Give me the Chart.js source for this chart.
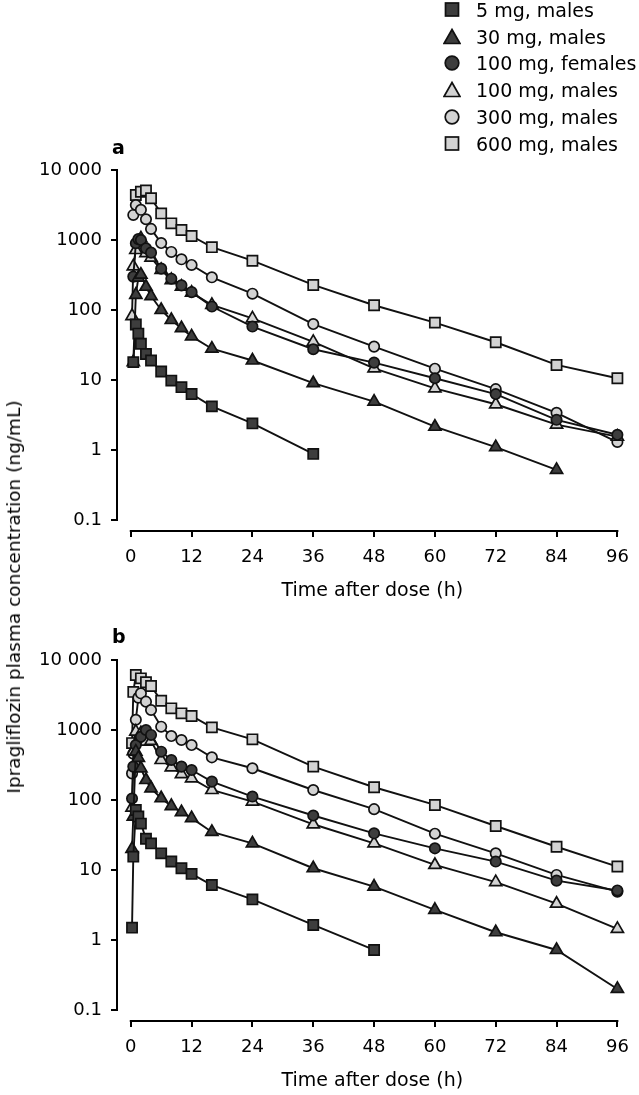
<!DOCTYPE html>
<html><head><meta charset="utf-8">
<script src="https://cdn.jsdelivr.net/npm/chart.js@4/dist/chart.umd.min.js"></script>
<style>
html,body{margin:0;padding:0;background:#fff;}
body{width:639px;height:1095px;position:relative;overflow:hidden;font-family:"DejaVu Sans",sans-serif;color:#000;}
.wrap{position:absolute;left:0;width:639px;height:610px;}
#wa{top:0;}
#wb{top:490px;}
canvas{display:block;}
.plabel{position:absolute;font-weight:bold;font-size:19px;line-height:22px;}
#ytitle{position:absolute;left:14px;top:597px;transform:translate(-50%,-50%) rotate(-90deg);white-space:nowrap;font-size:18.5px;line-height:22px;}
.lrow{position:absolute;height:22px;white-space:nowrap;font-size:19px;line-height:22px;}
.lrow svg{position:absolute;left:-32px;top:0;}
</style></head>
<body>
<div class="wrap" id="wa"><canvas id="ca" width="639" height="610"></canvas></div>
<div class="wrap" id="wb"><canvas id="cb" width="639" height="610"></canvas></div>
<div class="plabel" style="left:112px;top:136px;">a</div>
<div class="plabel" style="left:112px;top:625px;">b</div>
<div id="ytitle">Ipragliflozin plasma concentration (ng/mL)</div>
<div id="legend"></div>
<script>
// ---- Tick labels ----
const X_TICKS = [0, 12, 24, 36, 48, 60, 72, 84, 96];
const Y_TICKS = [0.1, 1, 10, 100, 1000, 10000];
const Y_TICK_LABELS = ['0.1', '1', '10', '100', '1000', '10 000'];
const X_TITLE = 'Time after dose (h)';

// ---- Series names ----
const SERIES = ['5 mg, males', '30 mg, males', '100 mg, females', '100 mg, males', '300 mg, males', '600 mg, males'];

// ---- Panel a (times in h, concentrations in ng/mL) ----
const A_T_5 = [0.5, 1, 1.5, 2, 3, 4, 6, 8, 10, 12, 16, 24, 36];
const A_C_5 = [18, 62, 46, 33, 23.5, 19, 13.2, 9.8, 7.9, 6.3, 4.2, 2.4, 0.88];
const A_T_30 = [0.5, 1, 1.5, 2, 3, 4, 6, 8, 10, 12, 16, 24, 36, 48, 60, 72, 84];
const A_C_30 = [18, 165, 290, 320, 215, 158, 100, 72, 55, 42, 28, 19, 9, 4.9, 2.15, 1.1, 0.52];
const A_T_100F = [0.5, 1, 1.5, 2, 3, 4, 6, 8, 10, 12, 16, 24, 36, 48, 60, 72, 84, 96];
const A_C_100F = [300, 900, 1030, 1000, 760, 660, 390, 280, 225, 180, 112, 58, 27.5, 17.7, 10.6, 6.3, 2.7, 1.65];
const A_T_100M = [0.25, 0.5, 1, 2, 3, 4, 6, 8, 10, 12, 16, 24, 36, 48, 60, 72, 84, 96];
const A_C_100M = [82, 420, 720, 1050, 650, 560, 373, 268, 215, 177, 118, 76, 35, 14.7, 7.6, 4.5, 2.3, 1.55];
const A_T_300 = [0.5, 1, 2, 3, 4, 6, 8, 10, 12, 16, 24, 36, 48, 60, 72, 84, 96];
const A_C_300 = [2280, 3160, 2700, 1980, 1440, 905, 675, 530, 440, 293, 171, 63, 30, 14.5, 7.4, 3.4, 1.3];
const A_T_600 = [1, 2, 3, 4, 6, 8, 10, 12, 16, 24, 36, 48, 60, 72, 84, 96];
const A_C_600 = [4400, 4900, 5100, 3950, 2400, 1730, 1390, 1140, 790, 506, 228, 117, 66, 34.6, 16.4, 10.6];

// ---- Panel b ----
const B_T_5 = [0.25, 0.5, 1, 1.5, 2, 3, 4, 6, 8, 10, 12, 16, 24, 36, 48];
const B_C_5 = [1.5, 15.5, 72, 58, 46, 28, 24, 17.3, 13.2, 10.6, 8.8, 6.1, 3.8, 1.64, 0.72];
const B_T_30 = [0.25, 0.5, 1, 1.5, 2, 3, 4, 6, 8, 10, 12, 16, 24, 36, 48, 60, 72, 84, 96];
const B_C_30 = [20, 58, 490, 400, 283, 193, 147, 106, 82, 67, 55, 35, 24, 10.6, 5.8, 2.7, 1.29, 0.72, 0.2];
const B_T_100F = [0.25, 0.5, 1, 2, 3, 4, 6, 8, 10, 12, 16, 24, 36, 48, 60, 72, 84, 96];
const B_C_100F = [105, 300, 610, 800, 1000, 850, 490, 373, 300, 268, 183, 112, 60, 33.4, 20.4, 13.2, 7.05, 5.1];
const B_T_100M = [0.25, 0.5, 1, 2, 3, 4, 6, 8, 10, 12, 16, 24, 36, 48, 60, 72, 84, 96];
const B_C_100M = [78, 500, 950, 900, 680, 700, 373, 293, 235, 204, 139, 95, 45, 24, 11.8, 6.7, 3.3, 1.44];
const B_T_300 = [0.25, 0.5, 1, 1.5, 2, 3, 4, 6, 8, 10, 12, 16, 24, 36, 48, 60, 72, 84, 96];
const B_C_300 = [240, 460, 1400, 2900, 3340, 2540, 1930, 1115, 820, 720, 610, 407, 284, 139, 74, 33, 17.3, 8.5, 4.9];
const B_T_600 = [0.25, 0.5, 1, 2, 3, 4, 6, 8, 10, 12, 16, 24, 36, 48, 60, 72, 84, 96];
const B_C_600 = [650, 3500, 6100, 5470, 4800, 4250, 2620, 2040, 1730, 1585, 1090, 736, 300, 152, 85, 42.5, 21.5, 11.2];

// ---- Styles ----
const DARK = '#3d3d3d', LIGHT = '#d3d3d3', INK = '#111111';
const STYLES = [
  {shape: 'rect', fill: DARK, r: 7.2},
  {shape: 'triangle', fill: DARK, r: 7},
  {shape: 'circle', fill: DARK, r: 5.2},
  {shape: 'triangle', fill: LIGHT, r: 7},
  {shape: 'circle', fill: LIGHT, r: 5.2},
  {shape: 'rect', fill: LIGHT, r: 7.2}
];

function pts(t, c) { return t.map((v, i) => ({x: v, y: c[i]})); }

function makeDatasets(list) {
  return list.map((pair, i) => ({
    label: SERIES[i],
    data: pts(pair[0], pair[1]),
    showLine: true,
    borderColor: INK,
    borderWidth: 1.9,
    pointStyle: STYLES[i].shape,
    pointRadius: STYLES[i].r,
    pointHoverRadius: STYLES[i].r,
    pointBackgroundColor: STYLES[i].fill,
    pointBorderColor: INK,
    pointBorderWidth: 1.7,
    tension: 0,
    clip: false
  }));
}

const axesPlugin = {
  id: 'offsetAxes',
  beforeDatasetsDraw(chart) {
    const {ctx, chartArea} = chart;
    const x = chart.scales.x, y = chart.scales.y;
    ctx.save();
    ctx.strokeStyle = '#000';
    ctx.lineWidth = 2;
    ctx.beginPath();
    ctx.moveTo(chartArea.left - 1, y.getPixelForValue(Y_TICKS[0]) + 1);
    ctx.lineTo(chartArea.left - 1, y.getPixelForValue(Y_TICKS[Y_TICKS.length - 1]) - 1);
    ctx.moveTo(x.getPixelForValue(X_TICKS[0]) - 1, chartArea.bottom + 1);
    ctx.lineTo(x.getPixelForValue(X_TICKS[X_TICKS.length - 1]) + 1, chartArea.bottom + 1);
    ctx.stroke();
    ctx.restore();
  }
};

Chart.defaults.font.family = "'DejaVu Sans', sans-serif";
Chart.defaults.font.size = 18;
Chart.defaults.color = '#000';

function makeChart(id, list) {
  return new Chart(document.getElementById(id), {
    type: 'scatter',
    data: {datasets: makeDatasets(list)},
    plugins: [axesPlugin],
    options: {
      responsive: false,
      animation: false,
      events: [],
      layout: {padding: {top: 170, right: 3, left: 0, bottom: 0}},
      plugins: {legend: {display: false}, tooltip: {enabled: false}},
      scales: {
        x: {
          type: 'linear',
          bounds: 'data',
          min: -2.5187,
          max: 97.8406,
          afterBuildTicks: s => { s.ticks = X_TICKS.map(v => ({value: v})); },
          afterFit: s => { s.height = 80; },
          ticks: {padding: 10, callback: v => String(v), font: {size: 18}},
          grid: {display: true, drawOnChartArea: false, drawTicks: true, tickLength: 7, color: '#000', lineWidth: 2},
          border: {display: false},
          title: {display: true, text: X_TITLE, font: {size: 19}, padding: {top: 0, bottom: 8}}
        },
        y: {
          type: 'logarithmic',
          bounds: 'data',
          min: Math.pow(10, 4 - 360 / 70),
          max: 10000,
          afterBuildTicks: s => { s.ticks = Y_TICKS.map(v => ({value: v})); },
          afterFit: s => { s.width = 118; },
          ticks: {padding: 9, callback: (v, i) => Y_TICK_LABELS[Y_TICKS.indexOf(v)] ?? '', font: {size: 18}},
          grid: {display: true, drawOnChartArea: false, drawTicks: true, tickLength: 7, color: '#000', lineWidth: 2},
          border: {display: false}
        }
      }
    }
  });
}

makeChart('ca', [[A_T_5, A_C_5], [A_T_30, A_C_30], [A_T_100F, A_C_100F], [A_T_100M, A_C_100M], [A_T_300, A_C_300], [A_T_600, A_C_600]]);
makeChart('cb', [[B_T_5, B_C_5], [B_T_30, B_C_30], [B_T_100F, B_C_100F], [B_T_100M, B_C_100M], [B_T_300, B_C_300], [B_T_600, B_C_600]]);

// ---- Legend ----
const LEG_Y = [10, 36.7, 63.3, 90, 116.7, 143.5];
const legend = document.getElementById('legend');
SERIES.forEach((name, i) => {
  const st = STYLES[i];
  const row = document.createElement('div');
  row.className = 'lrow';
  row.style.left = '476px';
  row.style.top = (LEG_Y[i] - 11) + 'px';
  let shape = '';
  if (st.shape === 'rect') shape = `<rect x="2.5" y="4" width="13" height="13" fill="${st.fill}" stroke="${INK}" stroke-width="1.7"/>`;
  else if (st.shape === 'circle') shape = `<circle cx="9" cy="11" r="6.8" fill="${st.fill}" stroke="${INK}" stroke-width="1.7"/>`;
  else shape = `<polygon points="9,3.5 17,17.5 1,17.5" fill="${st.fill}" stroke="${INK}" stroke-width="1.7" stroke-linejoin="miter"/>`;
  row.innerHTML = `<svg width="18" height="22" viewBox="0 0 18 22" style="left:-33px">${shape}</svg>${name}`;
  legend.appendChild(row);
});
</script>
</body></html>
